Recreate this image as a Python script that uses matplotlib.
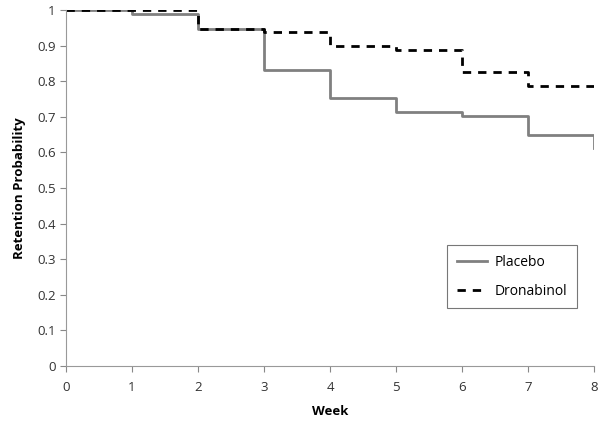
import matplotlib
matplotlib.use("Agg")
import matplotlib.pyplot as plt

weeks = [0, 1, 2, 3, 4, 5, 6, 7, 8, 8]
placebo = [1.0, 0.988, 0.948, 0.831, 0.754, 0.714, 0.702, 0.649, 0.649, 0.612]
dronabinol_weeks = [0, 1, 2, 3, 4, 5, 6, 7, 8]
dronabinol = [1.0, 1.0, 0.948, 0.937, 0.900, 0.888, 0.825, 0.787, 0.787]
yticks = [0, 0.1, 0.2, 0.3, 0.4, 0.5, 0.6, 0.7, 0.8, 0.9, 1]
ytick_labels = ["0", "0.1", "0.2", "0.3", "0.4", "0.5", "0.6", "0.7", "0.8", "0.9", "1"]
xticks = [0, 1, 2, 3, 4, 5, 6, 7, 8]

plt.rcParams['font.family'] = ['Open Sans', 'DejaVu Sans']

fig = plt.figure(figsize=(6, 4.32), dpi=100)
ax = fig.add_axes([0.11, 0.1528, 0.88, 0.824])

ax.plot(weeks, placebo, drawstyle='steps-post', color='#808080', lw=2, label='Placebo')
ax.plot(dronabinol_weeks, dronabinol, drawstyle='steps-post', color='black', lw=2,
        linestyle=(0, (3, 2.5)), label='Dronabinol')

ax.set_xlim(0, 8)
ax.set_ylim(0, 1)
ax.set_xticks(xticks)
ax.set_yticks(yticks)
ax.set_yticklabels(ytick_labels)
ax.tick_params(axis='both', labelsize=9.5, colors='#888888', labelcolor='#333333',
               direction='out', length=4, width=0.8)
ax.tick_params(axis='x', pad=7)
for s in ['top', 'right']:
    ax.spines[s].set_visible(False)
for s in ['left', 'bottom']:
    ax.spines[s].set_color('#999999')
    ax.spines[s].set_linewidth(0.8)

ax.set_xlabel('Week', fontsize=9.5, fontweight='bold', labelpad=8)
ax.set_ylabel('Retention Probability', fontsize=9.5, fontweight='bold', labelpad=8)

leg = ax.legend(loc='upper left', bbox_to_anchor=(0.722, 0.34), borderaxespad=0,
                fontsize=10, frameon=True, fancybox=False, edgecolor='#555555',
                handlelength=2.2, borderpad=0.7, labelspacing=1.0, handletextpad=0.5)
leg.get_frame().set_linewidth(0.8)

fig.savefig('out.png', dpi=100)
